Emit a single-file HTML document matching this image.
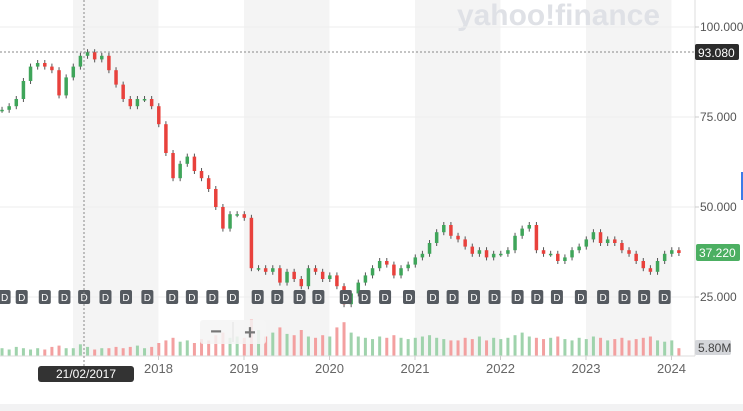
<!DOCTYPE html>
<html><head><meta charset="utf-8"><style>
body{margin:0;width:743px;height:411px;overflow:hidden;background:#fff;font-family:"Liberation Sans",sans-serif}
svg{display:block}
</style></head><body>
<svg id="c" width="743" height="411">
<rect x="0" y="404" width="743" height="7" fill="#f2f2f3"/>
<g id="bands"></g>
<text x="457" y="25" font-size="30" font-weight="bold" fill="#dfe1e6" textLength="203" lengthAdjust="spacingAndGlyphs">yahoo!finance</text>
<g id="grid"></g>
<g id="vol"></g>
<g id="candles"></g>
<g id="divs"></g>
<line x1="695" y1="0" x2="695" y2="356" stroke="#ddd"/>
<line x1="0" y1="356" x2="695" y2="356" stroke="#ddd"/>
<g id="axes"></g>
<line x1="84" y1="0" x2="84" y2="366" stroke="#888" stroke-dasharray="2,2"/>
<line x1="0" y1="52" x2="694" y2="52" stroke="#888" stroke-dasharray="2,2"/>
<rect x="695" y="44" width="44" height="16" rx="2" fill="#2b2b2b"/>
<text x="698" y="57" font-size="12" fill="#fff">93.080</text>
<rect x="38" y="366" width="96" height="16" rx="3" fill="#333"/>
<text x="86" y="378" font-size="12" fill="#fff" text-anchor="middle">21/02/2017</text>
<rect x="696" y="244" width="44" height="17" rx="2" fill="#4caf62"/>
<text x="699" y="257" font-size="12" fill="#fff">37.220</text>
<rect x="695" y="340" width="36" height="15" rx="2" fill="#d4d6da"/>
<text x="698" y="352" font-size="12" fill="#444">5.80M</text>
<rect x="741" y="172" width="2" height="28" fill="#3b7be8"/>
<g>
<rect x="200" y="320" width="66" height="24" rx="3" fill="#f4f4f4" fill-opacity="0.85"/>
<line x1="233" y1="322" x2="233" y2="342" stroke="#e2e2e2"/>
<text x="216" y="338" font-size="20" font-weight="bold" fill="#777" text-anchor="middle">−</text>
<text x="250" y="339" font-size="20" font-weight="bold" fill="#777" text-anchor="middle">+</text>
</g>
</svg>
<script>
const closes=[77,78,80,85,89,90,89,88,81,86,
89,92,93,91,92,88,84,80,78,80,80,78,
73,65,58,62,64,60,58,55,50,44,48,48,
47,33,33,32,33,29,32,30,28,33,32,30,
31,28,23,26,29,31,33,35,34,31,33,34,
36,37,40,43,45,42,41,39,37,38,36,37,
37,38,42,44,45,38,37,37,35,36,38,39,
41,43,40,41,40,38,37,35,33,32,35,37,
38,37.22];
const volumes=[6,5,7,6,5,6,5,7,8,6,
6,9,7,5,6,6,7,6,7,8,6,7,
10,12,14,11,12,10,13,12,16,18,14,15,
14,28,20,15,18,22,17,16,20,15,14,16,
15,22,26,18,15,14,13,15,14,16,14,13,
14,15,16,14,13,12,12,14,13,15,12,14,
13,14,16,18,15,14,13,14,15,13,12,14,
13,15,14,12,13,14,12,13,14,15,12,11,
12,6];
const yTicks=[100,75,50,25];
const yTickLabels=["100.000","75.000","50.000","25.000"];
const years=[2018,2019,2020,2021,2022,2023,2024];
const bandYears=[2017,2019,2021,2023];
const divDates=[2016.2,2016.4,2016.67,2016.9,2017.13,2017.38,2017.62,2017.87,2018.16,2018.39,2018.63,2018.87,2019.16,2019.39,2019.65,2019.87,2020.19,2020.41,2020.65,2020.93,2021.21,2021.44,2021.69,2021.93,2022.2,2022.43,2022.66,2022.94,2023.2,2023.45,2023.68,2023.92];
const startT=2016.17;
const xT=t=>73+(t-2017)*85.5;
const xI=i=>xT(startT+i/12);
const yP=v=>27+(100-v)*3.6;
const yV=v=>356-v*1.3;
const NS="http://www.w3.org/2000/svg";
function mk(p,tag,a){const e=document.createElementNS(NS,tag);for(const k in a)e.setAttribute(k,a[k]);p.appendChild(e);return e;}
const bands=document.getElementById('bands');
bandYears.forEach(y=>{const r=mk(bands,'rect',{x:xT(y),y:0,width:85.5,height:356,fill:'#f4f4f4'});

});
const grid=document.getElementById('grid'),axes=document.getElementById('axes');
yTicks.forEach((v,i)=>{const l=mk(grid,'line',{x1:0,x2:695,y1:yP(v),y2:yP(v),stroke:'#eeeeee'});


mk(axes,'line',{x1:695,x2:699,y1:yP(v),y2:yP(v),stroke:'#ccc'});
const t=mk(axes,'text',{x:700,y:yP(v)+4,'font-size':12,fill:'#555'});t.textContent=yTickLabels[i];

});
years.forEach(y=>{const x=xT(y);mk(axes,'line',{x1:x,x2:x,y1:356,y2:360,stroke:'#ccc'});
const t=mk(axes,'text',{x:x,y:373,'font-size':13,fill:'#666','text-anchor':'middle'});t.textContent=y;

});
const cg=document.getElementById('candles'),vg=document.getElementById('vol');
closes.forEach((c,i)=>{const o=i?closes[i-1]:c;const up=c>=o;const x=xI(i);
const y1=yP(Math.max(o,c)),y2=yP(Math.min(o,c));
const w=mk(cg,'line',{x1:x,x2:x,y1:y1-3,y2:y2+3,stroke:'#555','stroke-width':1});


const r=mk(cg,'rect',{x:x-1.75,y:y1,width:3.5,height:Math.max(1.5,y2-y1),fill:up?'#3fa55a':'#e8413c'});


const v=mk(vg,'rect',{x:x-1.5,y:yV(volumes[i]),width:3,height:356-yV(volumes[i]),fill:up?'#9fd3ac':'#f3a0a0'});

});
const dg=document.getElementById('divs');
divDates.forEach(d=>{const x=xT(d);const r=mk(dg,'rect',{x:x-6,y:290,width:12,height:14,rx:2,fill:'#555a60'});


const t=mk(dg,'text',{x:x,y:301,'font-size':10,fill:'#fff','text-anchor':'middle'});t.textContent='D';

});
</script>
</body></html>
